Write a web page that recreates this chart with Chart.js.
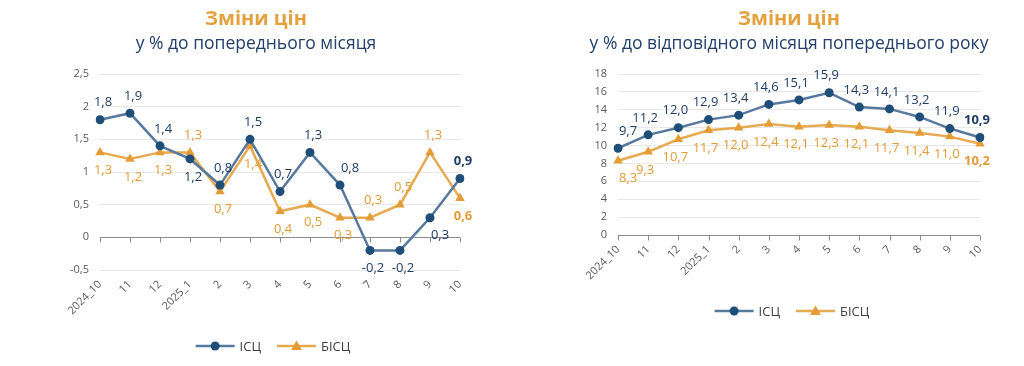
<!DOCTYPE html>
<html>
<head>
<meta charset="utf-8">
<script src="https://cdn.jsdelivr.net/npm/chart.js@4/dist/chart.umd.min.js"></script>
<style>
  body { margin: 0; background: #fff; width: 1024px; height: 366px; overflow: hidden; position: relative; font-family: 'Open Sans', sans-serif; }
  .box { position: absolute; top: 0; width: 512px; height: 366px; }
  .t { position: absolute; left: 0; width: 512px; text-align: center; white-space: nowrap; }
  .t1 { top: 4px; font-size: 20px; font-weight: bold; color: #e3a23f; }
  .t2 { top: 30px; font-size: 17.5px; color: #24406b; }
</style>
</head>
<body>
<div class="box" style="left:0">
  <canvas id="c1" width="512" height="366"></canvas>
  <div class="t t1">Зміни цін</div>
  <div class="t t2">у % до попереднього місяця</div>
</div>
<div class="box" style="left:512px">
  <canvas id="c2" width="512" height="366"></canvas>
  <div class="t t1" style="left:21px">Зміни цін</div>
  <div class="t t2" style="left:21px">у % до відповідного місяця попереднього року</div>
</div>
<script>
// categories (months)
const categories = ['2024_10', '11', '12', '2025_1', '2', '3', '4', '5', '6', '7', '8', '9', '10'];
const seriesNames = ['ІСЦ', 'БІСЦ'];

// % to previous month
const momIcsc  = [1.8, 1.9, 1.4, 1.2, 0.8, 1.5, 0.7, 1.3, 0.8, -0.2, -0.2, 0.3, 0.9];
const momBicsc = [1.3, 1.2, 1.3, 1.3, 0.7, 1.4, 0.4, 0.5, 0.3, 0.3, 0.5, 1.3, 0.6];

// % to same month of previous year
const yoyIcsc  = [9.7, 11.2, 12.0, 12.9, 13.4, 14.6, 15.1, 15.9, 14.3, 14.1, 13.2, 11.9, 10.9];
const yoyBicsc = [8.3, 9.3, 10.7, 11.7, 12.0, 12.4, 12.1, 12.3, 12.1, 11.7, 11.4, 11.0, 10.2];

// label placement (a = above, b = below, r suffix = shifted right)
const momIcscPos  = ['a','a','a','b','a','a','a','a','ar','b','b','br','a'];
const momBicscPos = ['b','b','b','a','b','b','b','b','b','a','a','a','b'];
const yoyIcscPos  = ['ar','a','a','a','a','a','a','a','a','a','a','a','a'];
const yoyBicscPos = ['br','b','b','b','b','b','b','b','b','b','b','b','b'];

const BLUE_LINE = '#57799e', BLUE_DOT = '#1f4e79', BLUE_TXT = '#1f3d66';
const ORG_LINE = '#e8aa50', ORG_DOT = '#e49c36', ORG_TXT = '#e39b38';

Chart.defaults.font.family = "'Open Sans', sans-serif";

const fmt = v => v.toFixed(1).replace('.', ',');

function drawMarker(ctx, style, x, y, color) {
  ctx.fillStyle = color;
  ctx.beginPath();
  if (style === 'circle') {
    ctx.arc(x, y, 4.5, 0, Math.PI * 2);
  } else {
    ctx.moveTo(x, y - 5.5); ctx.lineTo(x + 5.5, y + 4); ctx.lineTo(x - 5.5, y + 4); ctx.closePath();
  }
  ctx.fill();
}

const extras = {
  id: 'extras',
  beforeDatasetsDraw(chart) {
    const { ctx, chartArea: a, scales: { x, y } } = chart;
    const y0 = Math.round(y.getPixelForValue(0)) + 0.5;
    ctx.save();
    ctx.strokeStyle = '#8c8c8c';
    ctx.lineWidth = 1;
    ctx.beginPath();
    ctx.moveTo(a.left, y0); ctx.lineTo(a.right, y0);
    categories.forEach((c, i) => {
      const px = Math.round(x.getPixelForValue(i)) + 0.5;
      ctx.moveTo(px, y0); ctx.lineTo(px, y0 + 5);
    });
    ctx.stroke();
    ctx.restore();
  },
  afterDatasetsDraw(chart) {
    const { ctx, chartArea: a } = chart;
    const o = chart.options.plugins.extras;
    ctx.save();
    ctx.textAlign = 'center';
    ctx.textBaseline = 'middle';
    chart.data.datasets.forEach((ds, di) => {
      const meta = chart.getDatasetMeta(di);
      meta.data.forEach((pt, i) => {
        const pos = ds.labelPos[i];
        const last = i === ds.data.length - 1;
        let dx = o.dx, dy = pos[0] === 'a' ? -17 : 18;
        if (pos[1] === 'r') dx = 10;
        ctx.font = (last ? 'bold ' : '') + '13px "Open Sans"';
        ctx.fillStyle = ds.labelColor;
        ctx.fillText(fmt(ds.data[i]), pt.x + dx, pt.y + dy);
      });
    });
    // legend: line with marker, then name
    const ly = o.legendY;
    ctx.font = '13px "Open Sans"';
    ctx.textAlign = 'left';
    const items = chart.data.datasets.map(ds => ({ ds, w: 39 + 5 + ctx.measureText(ds.label).width }));
    const total = items.reduce((s, it) => s + it.w, 0) + 16 * (items.length - 1);
    let lx = (a.left + a.right) / 2 - 7 - total / 2;
    items.forEach(it => {
      ctx.strokeStyle = it.ds.borderColor;
      ctx.lineWidth = 2.5;
      ctx.beginPath(); ctx.moveTo(lx, ly); ctx.lineTo(lx + 39, ly); ctx.stroke();
      drawMarker(ctx, it.ds.pointStyle, lx + 19.5, ly, it.ds.pointBackgroundColor);
      ctx.fillStyle = '#404040';
      ctx.fillText(it.ds.label, lx + 44, ly + 1);
      lx += it.w + 16;
    });
    ctx.restore();
  }
};

function makeChart(id, icsc, bicsc, icscPos, bicscPos, yOpts, pad, legendY, dx) {
  return new Chart(document.getElementById(id), {
    type: 'line',
    data: {
      labels: categories,
      datasets: [
        { label: seriesNames[0], data: icsc, labelPos: icscPos, labelColor: BLUE_TXT,
          borderColor: BLUE_LINE, borderWidth: 2.5, pointStyle: 'circle', pointRadius: 4.5,
          pointBackgroundColor: BLUE_DOT, pointBorderColor: BLUE_DOT, pointBorderWidth: 0, tension: 0 },
        { label: seriesNames[1], data: bicsc, labelPos: bicscPos, labelColor: ORG_TXT,
          borderColor: ORG_LINE, borderWidth: 2.5, pointStyle: 'triangle', pointRadius: 5.5,
          pointBackgroundColor: ORG_DOT, pointBorderColor: ORG_DOT, pointBorderWidth: 0, tension: 0 }
      ]
    },
    options: {
      responsive: false,
      animation: false,
      layout: { padding: pad },
      plugins: { legend: { display: false }, tooltip: { enabled: false }, extras: { legendY, dx } },
      scales: {
        x: {
          offset: false,
          grid: { display: false, drawTicks: false },
          border: { display: false },
          ticks: { minRotation: 45, maxRotation: 45, padding: 8, color: '#595959', font: { size: 11 } },
          afterFit: s => { s.height = 50; }
        },
        y: Object.assign({
          grid: { color: '#e8e8e8', drawTicks: false },
          border: { display: false },
          afterFit: s => { s.width = pad.yw; }
        }, yOpts)
      }
    },
    plugins: [extras]
  });
}

makeChart('c1', momIcsc, momBicsc, momIcscPos, momBicscPos, {
  min: -0.5, max: 2.5,
  ticks: { stepSize: 0.5, padding: 11, color: '#595959', font: { size: 11 }, callback: v => String(v).replace('.', ',') }
}, { top: 74, left: 0, right: 52, bottom: 46, yw: 100 }, 346, 3);

makeChart('c2', yoyIcsc, yoyBicsc, yoyIcscPos, yoyBicscPos, {
  min: 0, max: 18,
  ticks: { stepSize: 2, padding: 11, color: '#595959', font: { size: 11 } }
}, { top: 74, left: 0, right: 44, bottom: 81, yw: 106 }, 311, -3);
</script>
</body>
</html>
